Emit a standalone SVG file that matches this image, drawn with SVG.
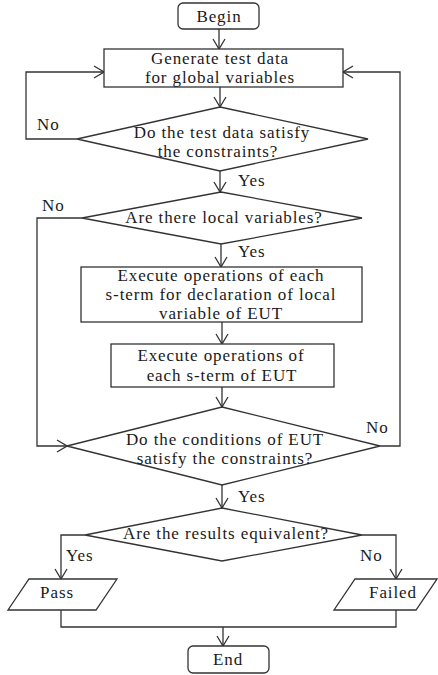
<svg xmlns="http://www.w3.org/2000/svg" width="438" height="675" viewBox="0 0 438 675">
<defs>
<style>
.s{fill:#fff;stroke:#333;stroke-width:1.3}
.c{fill:none;stroke:#333;stroke-width:1.3}
text{font-family:"Liberation Serif","Times New Roman",serif;font-size:17px;fill:#1a1a1a;letter-spacing:0.9px}
.m{text-anchor:middle}
</style>
<marker id="a" viewBox="-11 -7 12 14" refX="0" refY="0" markerWidth="12" markerHeight="14" markerUnits="userSpaceOnUse" orient="auto">
<path d="M-10,-6 L0,0 L-10,6" fill="none" stroke="#333" stroke-width="1.3"/>
</marker>
</defs>
<rect width="438" height="675" fill="#fff"/>
<g id="connectors">
<path class="c" d="M219,29 V49" marker-end="url(#a)"/>
<path class="c" d="M220,87 V107" marker-end="url(#a)"/>
<path class="c" d="M77,139 H26 V72 H104" marker-end="url(#a)"/>
<path class="c" d="M220,171 V192" marker-end="url(#a)"/>
<path class="c" d="M82,218 H37 V446 H67" marker-end="url(#a)"/>
<path class="c" d="M221,244 V267" marker-end="url(#a)"/>
<path class="c" d="M222,322 V344" marker-end="url(#a)"/>
<path class="c" d="M222,387 V407" marker-end="url(#a)"/>
<path class="c" d="M380,446 H400 V72 H343" marker-end="url(#a)"/>
<path class="c" d="M222,485 V508" marker-end="url(#a)"/>
<path class="c" d="M85,535 H61 V579" marker-end="url(#a)"/>
<path class="c" d="M362,535 H396 V579" marker-end="url(#a)"/>
<path class="c" d="M61,610 V627 H396 V610"/>
<path class="c" d="M223,627 V646" marker-end="url(#a)"/>
<text x="37" y="130">No</text>
<text x="238" y="186">Yes</text>
<text x="42" y="211">No</text>
<text x="238" y="257">Yes</text>
<text x="366" y="433">No</text>
<text x="238" y="502">Yes</text>
<text x="66" y="561">Yes</text>
<text x="360" y="561">No</text>
</g>
<g id="begin">
<rect class="s" x="178" y="3" width="81" height="26" rx="5"/>
<text class="m" x="219" y="22">Begin</text>
</g>
<g id="generate">
<rect class="s" x="104" y="49" width="239" height="38"/>
<text class="m" x="220" y="64">Generate test data</text>
<text class="m" x="220" y="83">for global variables</text>
</g>
<g id="check-data">
<polygon class="s" points="220,107 368,139 220,171 77,139"/>
<text class="m" x="222" y="138">Do the test data satisfy</text>
<text class="m" x="218" y="157">the constraints?</text>
</g>
<g id="local-vars">
<polygon class="s" points="221,192 362,218 221,244 82,218"/>
<text class="m" x="224" y="223">Are there local variables?</text>
</g>
<g id="exec-decl">
<rect class="s" x="81" y="267" width="281" height="55"/>
<text class="m" x="221" y="281">Execute operations of each</text>
<text class="m" x="221" y="300">s-term for declaration of local</text>
<text class="m" x="221" y="319">variable of EUT</text>
</g>
<g id="exec-eut">
<rect class="s" x="111" y="344" width="223" height="43"/>
<text class="m" x="221" y="361">Execute operations of</text>
<text class="m" x="222" y="381">each s-term of EUT</text>
</g>
<g id="check-cond">
<polygon class="s" points="222,407 380,446 222,485 67,446"/>
<text class="m" x="225" y="445">Do the conditions of EUT</text>
<text class="m" x="225" y="464">satisfy the constraints?</text>
</g>
<g id="equivalent">
<polygon class="s" points="222,508 362,535 222,561 85,535"/>
<text class="m" x="226" y="539">Are the results equivalent?</text>
</g>
<g id="pass">
<polygon class="s" points="29,579 117,579 96,610 8,610"/>
<text class="m" x="57" y="598">Pass</text>
</g>
<g id="failed">
<polygon class="s" points="355,579 437,579 416,610 334,610"/>
<text class="m" x="393" y="598">Failed</text>
</g>
<g id="end">
<rect class="s" x="188" y="646" width="81" height="27" rx="5"/>
<text class="m" x="228" y="665">End</text>
</g>
</svg>
